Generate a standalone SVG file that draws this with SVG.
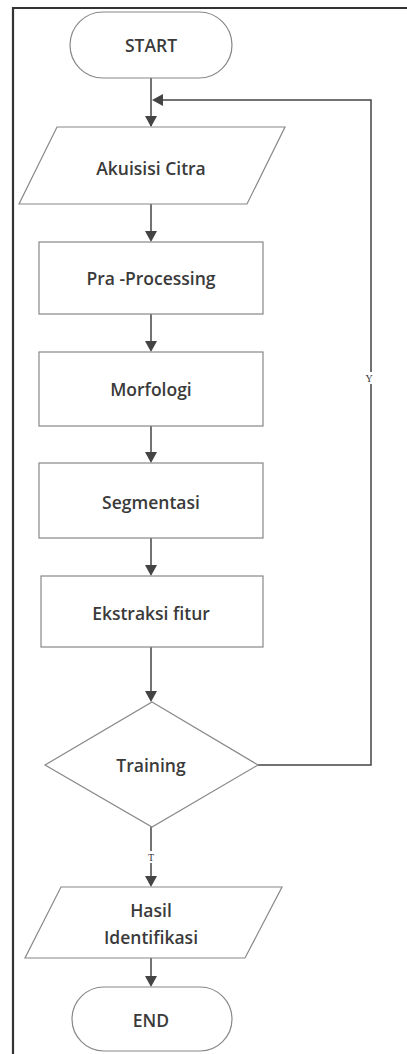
<svg xmlns="http://www.w3.org/2000/svg" width="407" height="1054" viewBox="0 0 407 1054">
<defs>
<style>
.shape{fill:#fff;stroke:#888;stroke-width:1.2}
.lbl{font-family:"Open Sans","Liberation Sans",sans-serif;font-size:17.5px;font-weight:600;fill:#3a3a3a;text-anchor:middle;dominant-baseline:central}
.sm{font-family:"Liberation Serif",serif;font-size:10px;fill:#333;text-anchor:middle;dominant-baseline:central}
.con{fill:none;stroke:#444;stroke-width:1.5}
.ah{fill:#444}
</style>
</defs>
<rect width="407" height="1054" fill="#fff"/>
<path d="M13,1054 L13,8 L407,8" fill="none" stroke="#333" stroke-width="2.2"/>

<g id="connectors">
<line class="con" x1="151" y1="78" x2="151" y2="126"/>
<path class="ah" d="M145,116 L157,116 L151,127 z"/>
<line class="con" x1="151" y1="204" x2="151" y2="240"/>
<path class="ah" d="M145,231 L157,231 L151,242 z"/>
<line class="con" x1="151" y1="314" x2="151" y2="350"/>
<path class="ah" d="M145,341 L157,341 L151,352 z"/>
<line class="con" x1="151" y1="426" x2="151" y2="461"/>
<path class="ah" d="M145,452 L157,452 L151,463 z"/>
<line class="con" x1="151" y1="538" x2="151" y2="574"/>
<path class="ah" d="M145,565 L157,565 L151,576 z"/>
<line class="con" x1="151" y1="647" x2="151" y2="700"/>
<path class="ah" d="M145,691 L157,691 L151,702 z"/>
<line class="con" x1="151" y1="827" x2="151" y2="885"/>
<path class="ah" d="M145,876 L157,876 L151,887 z"/>
<line class="con" x1="151" y1="958" x2="151" y2="985"/>
<path class="ah" d="M145,976 L157,976 L151,987 z"/>
<polyline class="con" points="258,765 371,765 371,100 160,100"/>
<path class="ah" d="M163,94 L163,106 L152,100 z"/>
<rect x="365" y="372" width="9" height="12" fill="#fff"/>
<text class="sm" x="369" y="378">Y</text>
<rect x="147" y="851" width="9" height="12" fill="#fff"/>
<text class="sm" x="151" y="857">T</text>
</g>

<g id="start">
<rect class="shape" x="70" y="12" width="162" height="66" rx="33" ry="33"/>
<text class="lbl" x="151" y="45">START</text>
</g>
<g id="akuisisi">
<polygon class="shape" points="57,127 285,127 247,204 19,204"/>
<text class="lbl" x="151" y="168">Akuisisi Citra</text>
</g>
<g id="praprocessing">
<rect class="shape" x="39" y="242" width="224" height="72"/>
<text class="lbl" x="151" y="278">Pra -Processing</text>
</g>
<g id="morfologi">
<rect class="shape" x="39" y="352" width="224" height="74"/>
<text class="lbl" x="151" y="389">Morfologi</text>
</g>
<g id="segmentasi">
<rect class="shape" x="39" y="463" width="224" height="75"/>
<text class="lbl" x="151" y="502">Segmentasi</text>
</g>
<g id="ekstraksi">
<rect class="shape" x="41" y="576" width="222" height="71"/>
<text class="lbl" x="151" y="613">Ekstraksi fitur</text>
</g>
<g id="training">
<polygon class="shape" points="152,702 258,765 152,827 45,765"/>
<text class="lbl" x="151" y="765">Training</text>
</g>
<g id="hasil">
<polygon class="shape" points="61,887 282,887 245,958 25,958"/>
<text class="lbl" x="151" y="910">Hasil</text>
<text class="lbl" x="151" y="937">Identifikasi</text>
</g>
<g id="end">
<rect class="shape" x="72" y="987" width="160" height="64" rx="32" ry="32"/>
<text class="lbl" x="151" y="1020">END</text>
</g>
</svg>
